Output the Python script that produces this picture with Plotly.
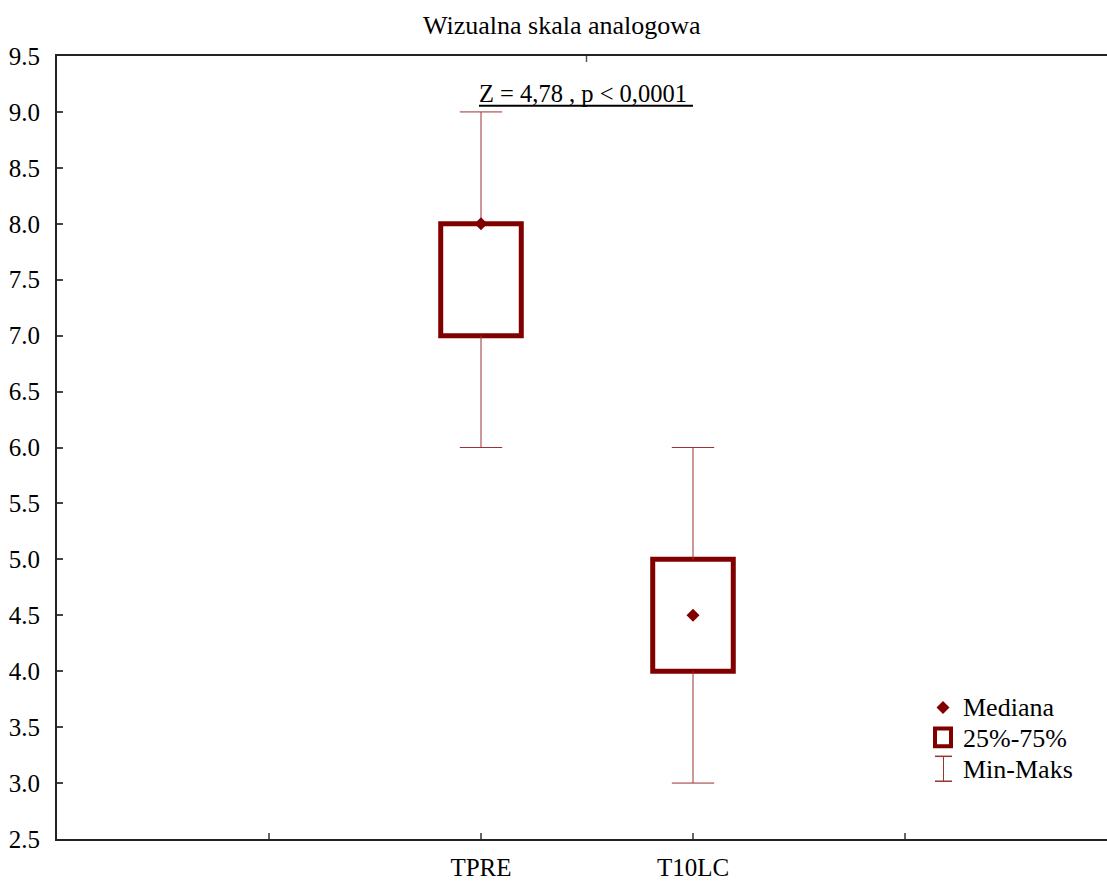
import plotly.graph_objects as go

# ---- data ----
categories = ["TPRE", "T10LC"]
minimum = [6.0, 3.0]
q1 = [7.0, 4.0]
median = [8.0, 4.5]
q3 = [8.0, 5.0]
maximum = [9.0, 6.0]
title_text = "Wizualna skala analogowa"
stat_text = "Z = 4,78 , p < 0,0001"
legend_labels = ["Mediana", "25%-75%", "Min-Maks"]
y_ticks = [2.5, 3.0, 3.5, 4.0, 4.5, 5.0, 5.5, 6.0, 6.5, 7.0, 7.5, 8.0, 8.5, 9.0, 9.5]

# ---- layout constants ----
W, H = 1107, 881
L, R, T, B = 57, 0, 56, 39
pw = W - L - R
ph = H - T - B
x_step = 212.0
xpos = [2, 3]  # axis slot of each category
DARK = "#800000"
WHISK = "rgb(155,50,50)"
FONT = "Liberation Serif, Times New Roman, serif"
FS = 25
box_w = 0.38
cap = 0.1

def px(x):
    return (x - L) / pw

def py(y):
    return (H - B - y) / ph

fig = go.Figure()

# boxes
fig.add_trace(go.Bar(
    x=xpos, y=[b - a for a, b in zip(q1, q3)], base=q1, width=box_w,
    marker=dict(color="white", line=dict(color=DARK, width=5)),
    showlegend=False, hoverinfo="skip",
))

# whiskers
wx, wy = [], []
for c, lo, a, b, hi in zip(xpos, minimum, q1, q3, maximum):
    wx += [c, c, None, c, c, None, c - cap, c + cap, None, c - cap, c + cap, None]
    wy += [hi, b, None, a, lo, None, hi, hi, None, lo, lo, None]
fig.add_trace(go.Scatter(x=wx, y=wy, mode="lines", line=dict(color=WHISK, width=1),
                         showlegend=False, hoverinfo="skip"))

# medians
fig.add_trace(go.Scatter(x=xpos, y=median, mode="markers",
                         marker=dict(symbol="diamond", size=10, color=DARK),
                         showlegend=False, hoverinfo="skip"))

shapes = []
annotations = []

# title
annotations.append(dict(text=title_text, xref="paper", yref="paper", x=px(562), y=py(25),
                        xanchor="center", yanchor="middle", showarrow=False,
                        font=dict(family=FONT, size=26, color="black")))
# statistic
annotations.append(dict(text=stat_text, xref="paper", yref="paper", x=px(583), y=py(94),
                        xanchor="center", yanchor="middle", showarrow=False,
                        font=dict(family=FONT, size=24.5, color="black")))
shapes.append(dict(type="line", xref="paper", yref="paper", x0=px(479), x1=px(693),
                   y0=py(106), y1=py(106), line=dict(color="black", width=2)))
shapes.append(dict(type="line", xref="paper", yref="paper", x0=px(586.5), x1=px(586.5),
                   y0=py(56), y1=py(62), line=dict(color="#555", width=1.5)))

# manual legend
dx, dy = 6.5 / pw, 6.5 / ph
cx, cy = px(943), py(710)
shapes.append(dict(type="path", xref="paper", yref="paper",
                   path=f"M {cx},{cy+dy} L {cx+dx},{cy} L {cx},{cy-dy} L {cx-dx},{cy} Z",
                   fillcolor=DARK, line=dict(color=DARK, width=0)))
shapes.append(dict(type="rect", xref="paper", yref="paper", x0=px(935), x1=px(951),
                   y0=py(731), y1=py(749), fillcolor="white", line=dict(color=DARK, width=4)))
shapes.append(dict(type="line", xref="paper", yref="paper", x0=px(935), x1=px(952),
                   y0=py(759), y1=py(759), line=dict(color=WHISK, width=1.5)))
shapes.append(dict(type="line", xref="paper", yref="paper", x0=px(935), x1=px(952),
                   y0=py(784), y1=py(784), line=dict(color=WHISK, width=1.5)))
shapes.append(dict(type="line", xref="paper", yref="paper", x0=px(943.5), x1=px(943.5),
                   y0=py(759), y1=py(784), line=dict(color=WHISK, width=1)))
for lab, yy in zip(legend_labels, [710, 741, 772]):
    annotations.append(dict(text=lab, xref="paper", yref="paper", x=px(961), y=py(yy),
                            xanchor="left", yanchor="middle", showarrow=False,
                            font=dict(family=FONT, size=26, color="black")))

fig.update_layout(
    width=W, height=H,
    margin=dict(l=L, r=R, t=T, b=B, pad=0),
    paper_bgcolor="white", plot_bgcolor="white",
    showlegend=False,
    shapes=shapes, annotations=annotations,
    font=dict(family=FONT, size=FS, color="black"),
    xaxis=dict(range=[0, pw / x_step], tickvals=[1, 2, 3, 4],
               ticktext=["", categories[0], categories[1], ""],
               ticks="inside", ticklen=6, tickcolor="#666", tickwidth=1.5,
               showline=True, linecolor="#222", linewidth=2, mirror=True,
               showgrid=False, zeroline=False, ticklabelstandoff=5,
               tickfont=dict(family=FONT, size=FS, color="black")),
    yaxis=dict(range=[2.5, 9.5], tickvals=y_ticks, ticktext=[f"{v:.1f}" for v in y_ticks],
               ticks="inside", ticklen=6, tickcolor="#444", tickwidth=1.5,
               showline=True, linecolor="#222", linewidth=2,
               showgrid=False, zeroline=False, ticklabelstandoff=10,
               tickfont=dict(family=FONT, size=FS, color="black")),
)

fig.write_html("out.html")
